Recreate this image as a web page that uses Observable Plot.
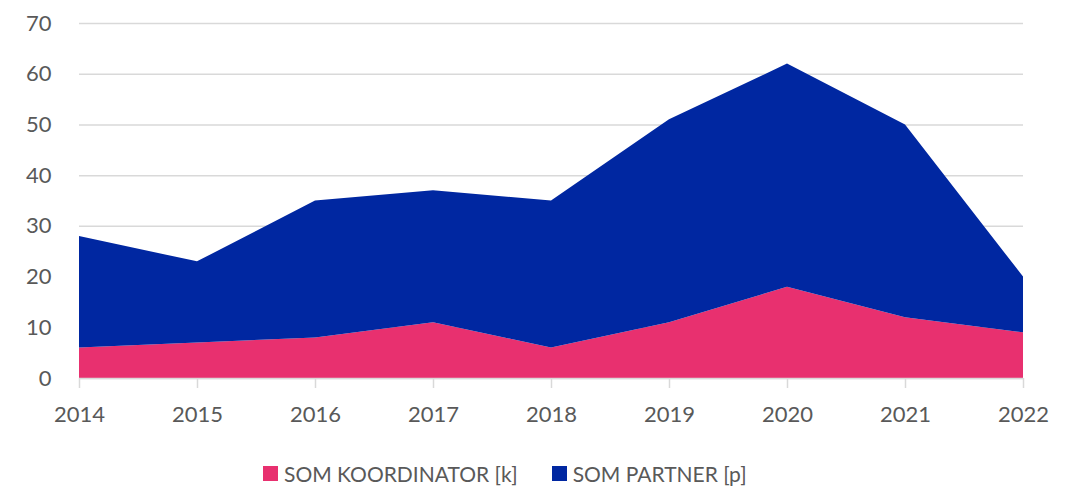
<!DOCTYPE html>
<html>
<head>
<meta charset="utf-8">
<script src="https://cdn.jsdelivr.net/npm/d3@7"></script>
<script src="https://cdn.jsdelivr.net/npm/@observablehq/plot@0.6"></script>
<style>
  html, body { margin: 0; padding: 0; background: #fff; }
  body { width: 1069px; height: 490px; position: relative; overflow: hidden; font-family: Lato, "Open Sans", sans-serif; }
  #chart { position: absolute; left: 0; top: 0; }
  #legend { position: absolute; left: 263px; top: 461px; display: flex; align-items: center; font-size: 21px; color: #595959; font-family: Lato, sans-serif; }
  .item { display: flex; align-items: center; margin-right: 34px; }
  .sw { width: 15px; height: 15px; margin-right: 6px; }
</style>
</head>
<body>
<div id="chart"></div>
<div id="legend"></div>
<script>
const years = [2014, 2015, 2016, 2017, 2018, 2019, 2020, 2021, 2022];
const seriesNames = ["SOM KOORDINATOR [k]", "SOM PARTNER [p]"];
const koordinator = [6, 7, 8, 11, 6, 11, 18, 12, 9];
const partner = [22, 16, 27, 26, 29, 40, 44, 38, 11];
const colors = ["#e8306f", "#0027a1"];
const yTicks = [0, 10, 20, 30, 40, 50, 60, 70];

const data = [];
years.forEach((yr, i) => {
  data.push({year: yr, series: seriesNames[0], value: koordinator[i]});
  data.push({year: yr, series: seriesNames[1], value: partner[i]});
});

const chart = Plot.plot({
  width: 1069,
  height: 445,
  marginLeft: 79,
  marginRight: 46,
  marginTop: 23,
  marginBottom: 67,
  style: { fontFamily: "Lato, sans-serif", fontSize: "22px", color: "#595959", background: "#fff" },
  x: { domain: [2014, 2022], ticks: years, tickFormat: d3.format("d"), label: null },
  y: { domain: [0, 70], ticks: yTicks, label: null },
  color: { domain: seriesNames, range: colors },
  marks: [
    Plot.gridY(yTicks, { stroke: "#d9d9d9", strokeOpacity: 1, strokeWidth: 1.5 }),
    Plot.areaY(data, Plot.stackY({ x: "year", y: "value", z: "series", fill: "series", order: seriesNames })),
    Plot.ruleY([0], { stroke: "#d9d9d9", strokeWidth: 1.5 }),
    Plot.axisX({ ticks: years, tickFormat: d3.format("d"), stroke: "#d9d9d9", strokeWidth: 1.5, tickSize: 10, tickPadding: 18, fill: "#595959", fontSize: 22 }),
    Plot.axisY({ ticks: yTicks, tickSize: 0, tickPadding: 28, fill: "#595959", fontSize: 22 })
  ]
});
document.getElementById("chart").appendChild(chart);

const legend = document.getElementById("legend");
seriesNames.forEach((name, i) => {
  const item = document.createElement("div");
  item.className = "item";
  const sw = document.createElement("div");
  sw.className = "sw";
  sw.style.background = colors[i];
  const label = document.createElement("span");
  label.textContent = name;
  item.appendChild(sw);
  item.appendChild(label);
  legend.appendChild(item);
});
</script>
</body>
</html>
